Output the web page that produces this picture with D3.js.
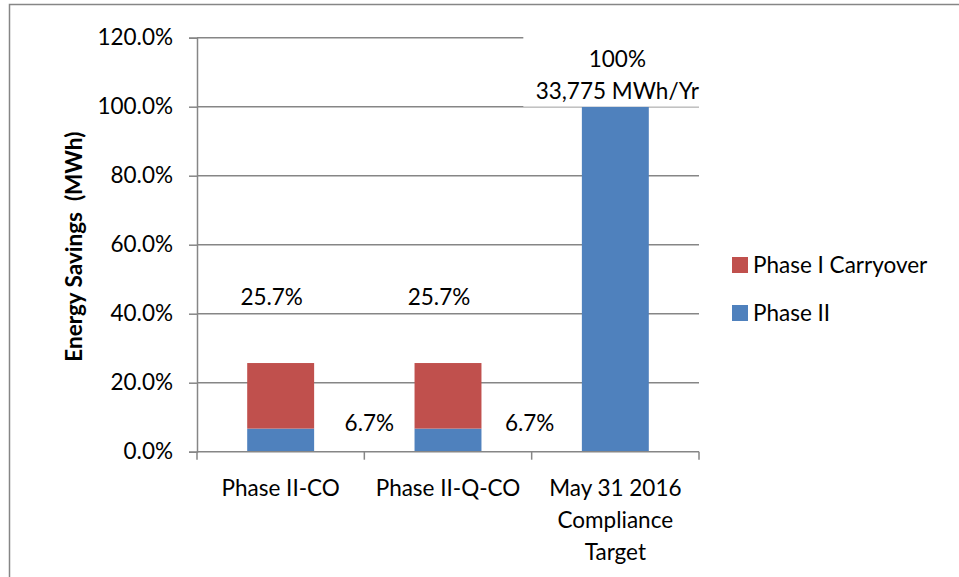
<!DOCTYPE html>
<html>
<head>
<meta charset="utf-8">
<script src="https://cdn.jsdelivr.net/npm/d3@7"></script>
<style>
  body { margin: 0; background: #fff; }
  text { font-family: Lato, "Open Sans", sans-serif; fill: #000; }
</style>
</head>
<body>
<script>
const categories = ["Phase II-CO", "Phase II-Q-CO", "May 31 2016|Compliance|Target"];
const seriesNames = ["Phase II", "Phase I Carryover"];
const phaseTwo = [6.7, 6.7, 100];
const carryover = [19.0, 19.0, 0];
const totalLabels = ["25.7%", "25.7%", "100%|33,775 MWh/Yr"];
const phaseTwoLabels = ["6.7%", "6.7%", null];
const yTicks = [0, 20, 40, 60, 80, 100, 120];

const colors = { "Phase II": "#4f81bd", "Phase I Carryover": "#c0504d" };
const grey = "#868686";

const w = 959, h = 577;
const fs = 22.5;

const svg = d3.select("body").append("svg")
  .attr("width", w)
  .attr("height", h);

// chart area frame (only left and top edges fall inside the picture)
svg.append("path")
  .attr("d", "M9.5,577V4.5H959")
  .attr("fill", "none")
  .attr("stroke", grey)
  .attr("stroke-width", 1.5);

const plot = { left: 197, right: 699, top: 37.7, bottom: 451.7 };

const x = d3.scaleBand()
  .domain(categories)
  .range([plot.left, plot.right])
  .paddingInner(0.6)
  .paddingOuter(0.3);

// band boundaries used for the category ticks
const step = (plot.right - plot.left) / categories.length;

const y = d3.scaleLinear()
  .domain([0, 120])
  .range([plot.bottom, plot.top]);

// gridlines
svg.append("g")
  .selectAll("line")
  .data(yTicks.filter(d => d > 0))
  .join("line")
  .attr("x1", plot.left)
  .attr("x2", plot.right)
  .attr("y1", d => y(d))
  .attr("y2", d => y(d))
  .attr("stroke", grey)
  .attr("stroke-width", 1.5);

// y axis
const yAxis = svg.append("g")
  .attr("transform", `translate(${plot.left},0)`)
  .call(d3.axisLeft(y).tickValues(yTicks).tickSize(8).tickPadding(16)
    .tickFormat(d => d.toFixed(1) + "%"));
yAxis.select(".domain").attr("stroke", grey).attr("stroke-width", 1.5);
yAxis.selectAll(".tick line").attr("stroke", grey).attr("stroke-width", 1.5);
yAxis.selectAll(".tick text")
  .attr("font-size", fs)
  .attr("font-family", "Lato")
  .attr("fill", "#000");

// stacked bars
const rows = categories.map((c, i) => ({ cat: c, "Phase II": phaseTwo[i], "Phase I Carryover": carryover[i] }));
const stacked = d3.stack().keys(seriesNames)(rows);

svg.append("g")
  .selectAll("g")
  .data(stacked)
  .join("g")
  .attr("fill", d => colors[d.key])
  .selectAll("rect")
  .data(d => d.filter(p => p[1] - p[0] > 0))
  .join("rect")
  .attr("x", d => x(d.data.cat))
  .attr("width", x.bandwidth())
  .attr("y", d => y(d[1]))
  .attr("height", d => y(d[0]) - y(d[1]));

// x axis line and ticks
svg.append("line")
  .attr("x1", plot.left).attr("x2", plot.right)
  .attr("y1", plot.bottom).attr("y2", plot.bottom)
  .attr("stroke", grey).attr("stroke-width", 1.5);
svg.append("g")
  .selectAll("line")
  .data(d3.range(categories.length + 1))
  .join("line")
  .attr("x1", i => plot.left + i * step)
  .attr("x2", i => plot.left + i * step)
  .attr("y1", plot.bottom)
  .attr("y2", plot.bottom + 8)
  .attr("stroke", grey).attr("stroke-width", 1.5);

// category labels
svg.append("g")
  .selectAll("text")
  .data(categories)
  .join("text")
  .attr("text-anchor", "middle")
  .attr("font-size", fs)
  .attr("transform", d => `translate(${x(d) + x.bandwidth() / 2},${plot.bottom + 44})`)
  .selectAll("tspan")
  .data(d => d.split("|"))
  .join("tspan")
  .attr("x", 0)
  .attr("dy", (d, i) => i === 0 ? 0 : 32)
  .text(d => d);

// data labels: totals
const totals = categories.map((c, i) => phaseTwo[i] + carryover[i]);
const labelG = svg.append("g").attr("font-size", fs);

categories.forEach((c, i) => {
  const cx = x(c) + x.bandwidth() / 2;
  const lines = totalLabels[i].split("|");
  if (lines.length > 1) {
    // label box with white fill hides gridlines behind it
    labelG.append("rect")
      .attr("x", cx - 92)
      .attr("y", y(120) - 1)
      .attr("width", 186)
      .attr("height", y(totals[i]) - y(120) + 1)
      .attr("fill", "#fff");
    const t = labelG.append("text")
      .attr("text-anchor", "middle")
      .attr("x", cx + 2)
      .attr("y", y(totals[i]) - 40);
    t.selectAll("tspan")
      .data(lines)
      .join("tspan")
      .attr("x", cx + 2)
      .attr("dy", (d, j) => j === 0 ? 0 : 32.5)
      .text(d => d);
  } else {
    labelG.append("text")
      .attr("text-anchor", "middle")
      .attr("x", cx - 9)
      .attr("y", y(totals[i]) - 58)
      .text(lines[0]);
  }
  if (phaseTwoLabels[i]) {
    labelG.append("text")
      .attr("text-anchor", "middle")
      .attr("x", plot.left + (i + 1) * step + (i === 0 ? 5 : -2))
      .attr("y", y(phaseTwo[i]) + 2)
      .text(phaseTwoLabels[i]);
  }
});

// y axis title
svg.append("text")
  .attr("transform", `translate(82,${(plot.top + plot.bottom) / 2 + 2}) rotate(-90)`)
  .attr("text-anchor", "middle")
  .attr("font-size", fs)
  .attr("font-weight", "bold")
  .style("white-space", "pre")
  .text("Energy Savings  (MWh)");

// legend
const legendKeys = ["Phase I Carryover", "Phase II"];
const legend = svg.append("g")
  .selectAll("g")
  .data(legendKeys)
  .join("g")
  .attr("transform", (d, i) => `translate(732,${257 + i * 48})`);
legend.append("rect")
  .attr("width", 16)
  .attr("height", 16)
  .attr("fill", d => colors[d]);
legend.append("text")
  .attr("x", 21)
  .attr("y", 16)
  .attr("font-size", fs)
  .text(d => d);
</script>
</body>
</html>
